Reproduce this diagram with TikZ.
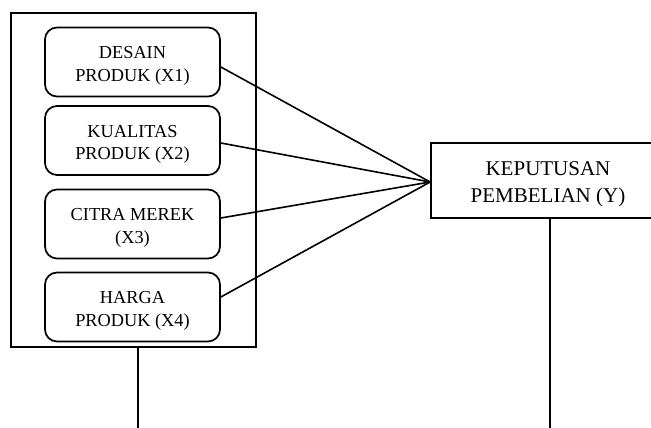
\documentclass[tikz,border=0pt]{standalone}
\usepackage{fontspec}
\setmainfont{Liberation Serif}
\begin{document}
\begin{tikzpicture}[x=1pt,y=-1pt,line width=1.7pt,
  varbox/.style={draw,rounded corners=12pt,minimum width=175pt,minimum height=69pt,inner sep=0pt},
  vartext/.style={align=center,inner sep=0pt,font=\fontsize{18.3}{22.7}\selectfont},
  ybox/.style={draw,minimum width=234pt,minimum height=75pt,inner sep=0pt},
  ytext/.style={align=center,inner sep=0pt,font=\fontsize{21}{27}\selectfont},
  link/.style={draw,line width=1.6pt}]
\useasboundingbox (0,0) rectangle (651,428);
\clip (0,0) rectangle (651,428);
\node[draw,minimum width=245pt,minimum height=334pt,inner sep=0pt] (outer) at (133.5,180) {};
\node[varbox] (b1) at (132.5,62) {};
\node[varbox] (b2) at (132.5,140.5) {};
\node[varbox] (b3) at (132.5,224) {};
\node[varbox] (b4) at (132.5,307) {};
\node[vartext] (t1) at ([yshift=-4pt]b1.center) {DESAIN\\PRODUK (X1)};
\node[vartext] (t2) at ([yshift=-4pt]b2.center) {KUALITAS\\PRODUK (X2)};
\node[vartext] (t3) at ([yshift=-4pt]b3.center) {CITRA MEREK\\(X3)};
\node[vartext] (t4) at ([yshift=-4pt]b4.center) {HARGA\\PRODUK (X4)};
\node[ybox] (y) at (548,180.5) {};
\node[ytext] (yt) at ([yshift=-4pt]y.center) {KEPUTUSAN\\PEMBELIAN (Y)};
\coordinate (hub) at ([yshift=-1.5pt]y.west);
\draw[link] ([yshift=-5pt]b1.east) -- (hub);
\draw[link] ([yshift=-2.5pt]b2.east) -- (hub);
\draw[link] ([yshift=6pt]b3.east) -- (hub);
\draw[link] ([yshift=10pt]b4.east) -- (hub);
\coordinate (lb) at (138,430);
\coordinate (rb) at (550,430);
\draw[link] (lb |- outer.south) -- (lb);
\draw[link] (rb |- y.south) -- (rb);
\end{tikzpicture}
\end{document}
